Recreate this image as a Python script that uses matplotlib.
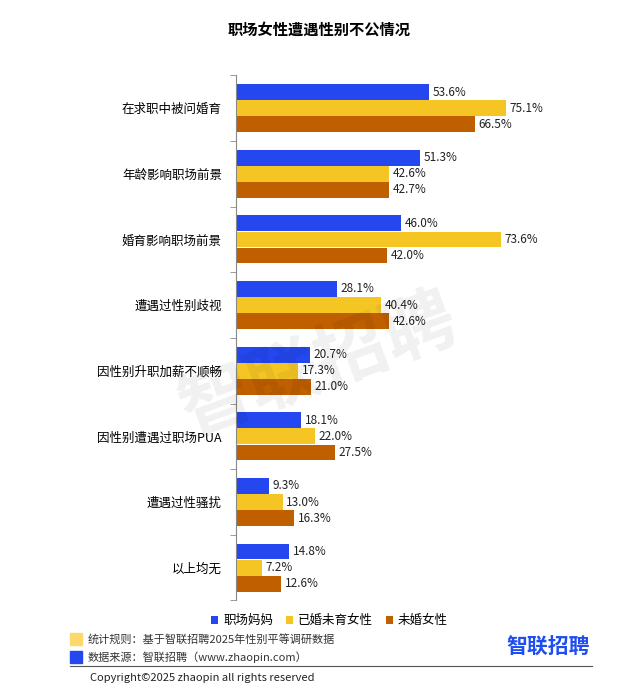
import matplotlib.pyplot as plt
import numpy as np

plt.rcParams['font.family'] = ['Noto Sans CJK SC', 'DejaVu Sans']

categories = ['在求职中被问婚育', '年龄影响职场前景', '婚育影响职场前景', '遭遇过性别歧视',
              '因性别升职加薪不顺畅', '因性别遭遇过职场PUA', '遭遇过性骚扰', '以上均无']
series_names = ['职场妈妈', '已婚未育女性', '未婚女性']
moms = [53.6, 51.3, 46.0, 28.1, 20.7, 18.1, 9.3, 14.8]
married = [75.1, 42.6, 73.6, 40.4, 17.3, 22.0, 13.0, 7.2]
single = [66.5, 42.7, 42.0, 42.6, 21.0, 27.5, 16.3, 12.6]
colors = ['#2447f0', '#f5c623', '#c05f00']

fig = plt.figure(figsize=(6.39, 6.91), dpi=100)
ax = fig.add_axes([0.369, 0.131, 0.563, 0.760])

n = len(categories)
y = np.arange(n)
h = 0.245
for i, (vals, c) in enumerate(zip([moms, married, single], colors)):
    pos = y + (i - 1) * h
    ax.barh(pos, vals, height=h * 0.98, color=c, label=series_names[i])
    for p, v in zip(pos, vals):
        ax.text(v + 1, p, f'{v:.1f}%', va='center', ha='left', fontsize=8.5, color='#222222')

ax.set_ylim(n - 0.5, -0.5)
ax.set_xlim(0, 100)
ax.set_yticks(y)
ax.set_yticklabels(categories, fontsize=9)
ax.set_yticks(np.arange(-0.5, n, 1), minor=True)
ax.tick_params(axis='y', which='major', length=0, pad=10)
ax.tick_params(axis='y', which='minor', length=4, color='#888888')
ax.set_xticks([])
for s in ['top', 'right', 'bottom']:
    ax.spines[s].set_visible(False)
ax.spines['left'].set_color('#888888')

fig.text(0.5, 0.957, '职场女性遭遇性别不公情况', ha='center', va='center', fontsize=11, fontweight='bold')

ax.legend(loc='upper center', bbox_to_anchor=(0.26, -0.005), ncol=3, frameon=False,
          fontsize=9, handlelength=0.6, handleheight=0.6, columnspacing=1.0, handletextpad=0.4)

fig.patches.append(plt.Rectangle((70 / 639, 1 - 645 / 691), 12 / 639, 12 / 691,
                                 transform=fig.transFigure, color='#fcd96a'))
fig.patches.append(plt.Rectangle((70 / 639, 1 - 663 / 691), 12 / 639, 12 / 691,
                                 transform=fig.transFigure, color='#2447f0'))
fig.text(88 / 639, 1 - 639 / 691, '统计规则：基于智联招聘2025年性别平等调研数据', fontsize=8, va='center', color='#333333')
fig.text(88 / 639, 1 - 657 / 691, '数据来源：智联招聘（www.zhaopin.com）', fontsize=8, va='center', color='#333333')
fig.text(548 / 639, 1 - 647 / 691, '智联招聘', fontsize=15, fontweight='bold', va='center', ha='center', color='#1f4ef0')
fig.add_artist(plt.Line2D([70 / 639, 592 / 639], [1 - 666 / 691, 1 - 666 / 691], color='#555555', lw=0.8))
fig.text(90 / 639, 1 - 678 / 691, 'Copyright©2025 zhaopin all rights reserved', fontsize=8, va='center', color='#222222')

fig.text(0.5, 0.47, '智联招聘', fontsize=52, color='#000000', alpha=0.06, rotation=20,
         ha='center', va='center', fontweight='bold')

fig.savefig('out.png', dpi=100)
